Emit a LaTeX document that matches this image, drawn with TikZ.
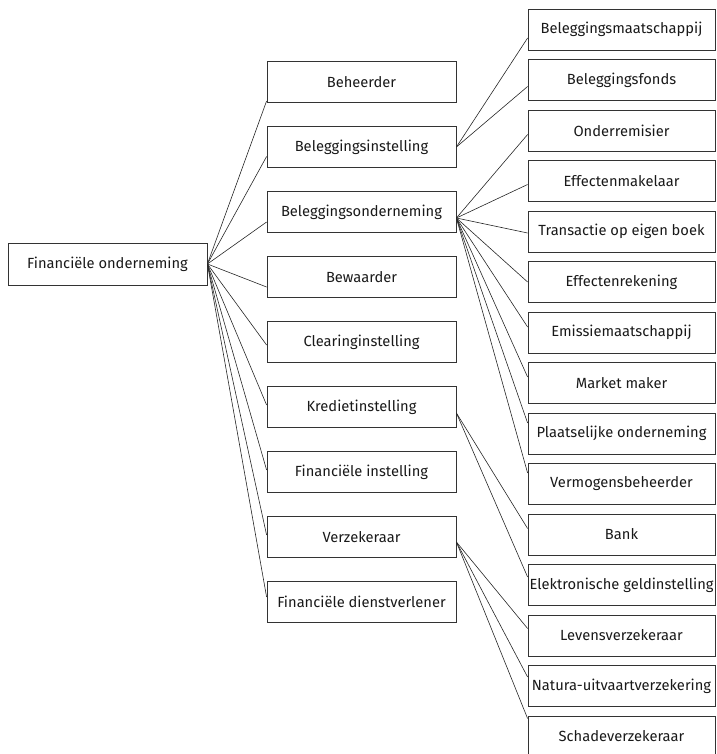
\documentclass[tikz,border=0pt]{standalone}
\usepackage{fontspec}
\setmainfont{Fira Sans}

\tikzset{
	box/.style={draw=black!80, line width=.8pt, rectangle, inner sep=0pt, text=black!90, font=\fontsize{14.7}{17}\selectfont},
	topbox/.style={box, minimum width=199pt, minimum height=42pt},
	midbox/.style={box, minimum width=189pt, minimum height=41pt},
	leafbox/.style={box, minimum width=187pt, minimum height=41pt},
	link/.style={draw=black!85, line width=.6pt}
}

\begin{document}
\begin{tikzpicture}[x=1pt,y=-1pt]
	\useasboundingbox (0,0) rectangle (716,754);
	% root
	\node [topbox] (fo) at (107.5,264) {Financiële onderneming};
	% middle column
	\node [midbox] (beh) at (361.5,82) {Beheerder};
	\node [midbox] (bi) at (361.5,147) {Beleggingsinstelling};
	\node [midbox] (bo) at (361.5,212) {Beleggingsonderneming};
	\node [midbox] (bew) at (361.5,277) {Bewaarder};
	\node [midbox] (ci) at (361.5,342) {Clearinginstelling};
	\node [midbox] (ki) at (361.5,407) {Kredietinstelling};
	\node [midbox] (fi) at (361.5,472) {Financiële instelling};
	\node [midbox] (vz) at (361.5,537) {Verzekeraar};
	\node [midbox] (fd) at (361.5,602) {Financiële dienstverlener};
	% right column
	\node [leafbox] (bm) at (621.5,29.5) {Beleggingsmaatschappij};
	\node [leafbox] (bf) at (621.5,80) {Beleggingsfonds};
	\node [leafbox] (or) at (621.5,130.5) {Onderremisier};
	\node [leafbox] (em) at (621.5,181) {Effectenmakelaar};
	\node [leafbox] (te) at (621.5,231.5) {Transactie op eigen boek};
	\node [leafbox] (er) at (621.5,282) {Effectenrekening};
	\node [leafbox] (ems) at (621.5,332.5) {Emissiemaatschappij};
	\node [leafbox] (mm) at (621.5,383) {Market maker};
	\node [leafbox] (po) at (621.5,433.5) {Plaatselijke onderneming};
	\node [leafbox] (vb) at (621.5,484) {Vermogensbeheerder};
	\node [leafbox] (bank) at (621.5,534.5) {Bank};
	\node [leafbox] (eg) at (621.5,585) {Elektronische geldinstelling};
	\node [leafbox] (lv) at (621.5,635.5) {Levensverzekeraar};
	\node [leafbox] (nu) at (621.5,686) {Natura-uitvaartverzekering};
	\node [leafbox] (sv) at (621.5,736.5) {Schadeverzekeraar};
	% root to middle
	\draw [link] (fo.east) -- ([yshift=-19pt]beh.west);
	\draw [link] (fo.east) -- ([yshift=-9.5pt]bi.west);
	\draw [link] (fo.east) -- ([yshift=-10pt]bo.west);
	\draw [link] (fo.east) -- ([yshift=-10pt]bew.west);
	\draw [link] (fo.east) -- ([yshift=-3pt]ci.west);
	\draw [link] (fo.east) -- ([yshift=2pt]ki.west);
	\draw [link] (fo.east) -- ([yshift=2pt]fi.west);
	\draw [link] (fo.east) -- ([yshift=2pt]vz.west);
	\draw [link] (fo.east) -- ([yshift=5pt]fd.west);
	% middle to right
	\draw [link] (bi.east) -- ([yshift=-8.5pt]bm.west);
	\draw [link] (bi.east) -- ([yshift=-6.5pt]bf.west);
	\draw [link] ([yshift=-6pt]bo.east) -- ([yshift=-4pt]or.west);
	\draw [link] ([yshift=-6pt]bo.east) -- ([yshift=-3.5pt]em.west);
	\draw [link] ([yshift=-6pt]bo.east) -- ([yshift=-1.5pt]te.west);
	\draw [link] ([yshift=-6pt]bo.east) -- (er.west);
	\draw [link] ([yshift=-6pt]bo.east) -- ([yshift=5.5pt]ems.west);
	\draw [link] ([yshift=-6pt]bo.east) -- ([yshift=6pt]mm.west);
	\draw [link] ([yshift=-6pt]bo.east) -- ([yshift=10.5pt]po.west);
	\draw [link] ([yshift=-6pt]bo.east) -- ([yshift=11pt]vb.west);
	\draw [link] ([yshift=-6pt]ki.east) -- ([yshift=6pt]bank.west);
	\draw [link] ([yshift=-6pt]ki.east) -- ([yshift=8pt]eg.west);
	\draw [link] ([yshift=-5pt]vz.east) -- ([yshift=7pt]lv.west);
	\draw [link] ([yshift=-5pt]vz.east) -- ([yshift=9pt]nu.west);
	\draw [link] ([yshift=-5pt]vz.east) -- ([yshift=18pt]sv.west);
\end{tikzpicture}
\end{document}
